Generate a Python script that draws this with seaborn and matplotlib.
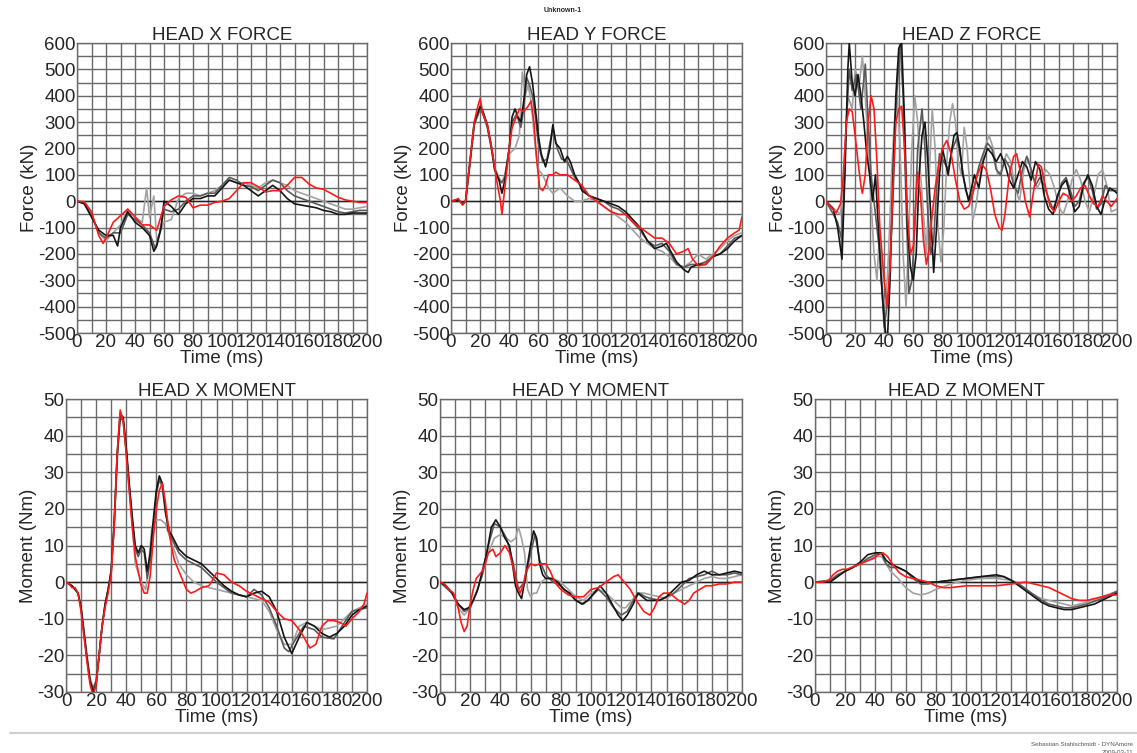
import matplotlib
matplotlib.use("Agg")
import matplotlib.pyplot as plt
from matplotlib.ticker import MultipleLocator
import seaborn as sns
import pandas as pd

# ---------------- data ----------------
# HEAD X FORCE
FX_RED_T = [0, 5, 10, 15, 18, 20, 25, 30, 35, 40, 45, 50, 55, 60, 65, 70, 75, 80, 85, 90, 95, 100, 105, 110, 115, 120, 125, 130, 135, 140, 145, 150, 155, 160, 165, 170, 175, 180, 185, 190, 195, 200]
FX_RED = [0, -2, -40, -130, -160, -140, -80, -55, -30, -60, -90, -90, -110, -20, 5, 20, 15, -25, -15, -15, -5, 0, 10, 40, 70, 70, 55, 35, 40, 40, 60, 90, 90, 65, 50, 45, 30, 15, 5, 0, -5, -5]
FX_BLK_T = [0, 5, 10, 15, 20, 25, 28, 30, 35, 40, 45, 50, 53, 55, 58, 60, 65, 70, 75, 80, 85, 90, 95, 100, 105, 110, 115, 120, 125, 130, 135, 140, 145, 150, 155, 160, 165, 170, 175, 180, 185, 190, 195, 200]
FX_BLK = [0, -10, -60, -110, -130, -130, -170, -100, -40, -80, -100, -130, -190, -170, -100, 0, -20, -50, -10, 10, 10, 20, 20, 50, 80, 70, 60, 40, 20, 40, 60, 40, 10, -10, -15, -20, -25, -35, -40, -50, -50, -45, -45, -45]
FX_DGR_T = [0, 5, 10, 15, 20, 25, 30, 35, 40, 45, 50, 54, 57, 60, 65, 70, 75, 80, 85, 90, 95, 100, 105, 110, 115, 120, 125, 130, 135, 140, 145, 150, 155, 160, 165, 170, 175, 180, 185, 190, 195, 200]
FX_DGR = [0, -8, -55, -120, -140, -120, -120, -50, -70, -90, -120, -180, -120, -30, -40, -30, 0, 20, 20, 30, 30, 60, 90, 80, 60, 55, 40, 60, 80, 70, 40, 20, 10, 0, -10, -20, -30, -40, -45, -40, -35, -35]
FX_LGR_T = [0, 5, 10, 15, 20, 25, 30, 35, 40, 45, 48, 50, 53, 55, 60, 65, 70, 75, 80, 85, 90, 95, 100, 105, 110, 115, 120, 125, 130, 135, 140, 145, 150, 155, 160, 165, 170, 175, 180, 185, 190, 195, 200]
FX_LGR = [0, -5, -50, -120, -150, -120, -90, -30, -60, -80, 50, -60, 20, -150, -80, -70, 10, 30, 30, 20, 30, 40, 60, 80, 70, 70, 60, 50, 70, 80, 70, 60, 40, 30, 20, 10, 0, -10, -20, -30, -30, -25, -20]

# HEAD Y FORCE
FY_RED_T = [0, 3, 5, 8, 10, 13, 16, 18, 20, 22, 25, 28, 30, 32, 34, 35, 37, 40, 42, 45, 47, 50, 53, 55, 57, 59, 61, 63, 65, 67, 70, 72, 75, 80, 85, 90, 95, 100, 105, 110, 115, 120, 125, 130, 135, 140, 145, 150, 155, 160, 163, 166, 170, 175, 180, 185, 190, 195, 198, 200]
FY_RED = [0, 5, 10, -15, 0, 150, 300, 350, 390, 330, 290, 200, 130, 60, 0, -50, 50, 200, 280, 320, 350, 340, 360, 380, 300, 150, 50, 40, 60, 100, 100, 110, 100, 100, 80, 60, 20, 0, -20, -40, -50, -50, -80, -100, -120, -140, -140, -160, -200, -190, -180, -220, -245, -240, -210, -170, -140, -120, -110, -60]
FY_BLK_T = [0, 5, 8, 10, 13, 16, 20, 22, 25, 28, 30, 33, 35, 37, 40, 42, 44, 46, 48, 50, 52, 54, 56, 58, 60, 62, 65, 68, 70, 72, 75, 78, 80, 82, 85, 88, 90, 95, 100, 105, 110, 115, 120, 125, 130, 135, 140, 145, 148, 150, 155, 160, 163, 165, 170, 175, 180, 185, 190, 195, 200]
FY_BLK = [0, 5, -10, 0, 150, 300, 360, 340, 290, 200, 120, 80, 30, 80, 200, 320, 350, 320, 300, 380, 480, 510, 450, 350, 250, 180, 130, 200, 290, 220, 200, 150, 170, 150, 100, 70, 40, 20, 10, 0, -10, -20, -40, -70, -100, -150, -180, -170, -160, -180, -230, -260, -270, -250, -240, -240, -210, -200, -180, -150, -130]
FY_DGR_T = [0, 5, 8, 10, 13, 16, 20, 22, 25, 28, 30, 33, 35, 37, 40, 42, 45, 48, 50, 52, 54, 56, 58, 60, 63, 66, 70, 73, 76, 80, 85, 90, 95, 100, 105, 110, 115, 120, 125, 130, 135, 140, 145, 150, 155, 160, 165, 170, 175, 180, 185, 190, 195, 200]
FY_DGR = [0, 5, -10, 0, 140, 290, 350, 330, 280, 190, 120, 80, 70, 90, 200, 300, 330, 280, 350, 470, 440, 400, 320, 220, 150, 160, 280, 200, 160, 150, 90, 50, 20, 10, 0, -20, -30, -50, -80, -110, -150, -170, -160, -190, -240, -250, -240, -240, -230, -210, -200, -170, -140, -130]
FY_LGR_T = [0, 5, 8, 10, 13, 16, 20, 22, 25, 28, 30, 33, 35, 37, 40, 44, 47, 49, 51, 53, 55, 58, 60, 63, 67, 70, 75, 80, 85, 90, 95, 100, 105, 110, 115, 120, 125, 130, 135, 140, 145, 150, 155, 160, 165, 170, 175, 180, 185, 190, 195, 200]
FY_LGR = [0, 5, -10, 0, 140, 290, 350, 330, 280, 200, 130, 90, 70, 100, 180, 200, 250, 490, 400, 440, 380, 200, 120, 100, 50, 30, 50, 20, 0, 0, 10, 0, -20, -40, -60, -80, -110, -140, -160, -180, -190, -210, -240, -250, -230, -200, -220, -200, -180, -150, -130, -120]

# HEAD Z FORCE
FZ_RED_T = [0, 3, 7, 10, 12, 14, 16, 18, 20, 22, 24, 25, 27, 29, 31, 33, 35, 37, 40, 42, 44, 46, 48, 50, 52, 54, 56, 58, 60, 62, 63, 65, 67, 69, 71, 73, 75, 78, 80, 83, 86, 89, 92, 95, 98, 101, 104, 107, 110, 113, 116, 119, 121, 123, 126, 129, 131, 134, 137, 140, 143, 146, 148, 151, 154, 157, 160, 163, 166, 169, 172, 175, 178, 181, 184, 187, 190, 193, 196, 200]
FZ_RED = [0, -20, -45, -10, 100, 300, 350, 340, 250, 150, 60, 30, 100, 300, 400, 350, 150, -100, -300, -400, -250, 50, 300, 350, 360, 200, -50, -200, -170, 20, 110, 20, -150, -240, -180, -50, 50, 150, 200, 230, 180, 80, 0, -30, -20, 30, 100, 140, 120, 50, -50, -100, -110, -50, 100, 170, 180, 100, 0, -60, 50, 140, 130, 50, -20, -40, 0, 30, 20, 0, 20, 50, 60, 20, -10, -20, 20, 0, -20, 10]
FZ_BLK_T = [0, 5, 8, 11, 13, 15, 16, 18, 20, 22, 24, 26, 28, 30, 32, 34, 36, 38, 40, 42, 44, 46, 48, 50, 52, 54, 56, 58, 60, 62, 64, 66, 68, 70, 72, 74, 76, 78, 80, 82, 84, 86, 88, 90, 92, 94, 96, 98, 100, 102, 105, 108, 111, 114, 117, 120, 123, 126, 129, 132, 135, 138, 141, 144, 147, 150, 153, 156, 159, 162, 165, 168, 171, 174, 177, 180, 183, 186, 189, 192, 195, 198, 200]
FZ_BLK = [0, -30, -100, -220, 100, 500, 600, 450, 400, 480, 400, 300, 180, 100, 0, 100, -100, -300, -450, -550, -300, 100, 400, 580, 600, 300, -100, -250, -300, -200, 100, 250, 300, 150, -50, -270, -100, 100, 200, 150, 100, 180, 250, 260, 200, 100, 50, 0, 50, 100, 50, 150, 200, 180, 150, 180, 140, 80, 50, 100, 150, 130, 80, 150, 120, 20, -30, -50, 20, 60, 80, 20, -40, -20, 60, 100, 60, -20, -50, 10, 50, 40, 30]
FZ_DGR_T = [0, 8, 11, 14, 16, 18, 21, 24, 27, 29, 31, 34, 37, 40, 43, 46, 48, 51, 53, 55, 57, 59, 61, 63, 66, 68, 70, 72, 74, 76, 78, 81, 84, 87, 90, 93, 96, 99, 102, 105, 108, 111, 114, 117, 120, 123, 126, 129, 132, 135, 138, 141, 144, 147, 150, 153, 156, 159, 162, 165, 168, 171, 174, 177, 180, 183, 186, 189, 192, 195, 200]
FZ_DGR = [0, -80, -150, 300, 500, 420, 480, 350, 520, 300, 100, -50, -200, -480, -350, 0, 350, 600, 400, 0, -350, -300, -100, 200, 350, 200, -50, -200, -150, 50, 180, 150, 120, 200, 240, 150, 40, 0, 60, 130, 180, 220, 200, 120, 100, 160, 130, 60, 30, 120, 170, 120, 60, 90, 60, 10, -30, 10, 70, 90, 40, -20, 0, 70, 90, 40, -30, -10, 60, 40, 40]
FZ_LGR_T = [0, 10, 13, 15, 18, 20, 23, 25, 27, 29, 31, 33, 35, 37, 39, 41, 43, 45, 47, 49, 51, 53, 55, 57, 59, 61, 63, 65, 67, 69, 71, 73, 75, 77, 79, 81, 83, 85, 87, 89, 91, 93, 95, 97, 99, 101, 103, 106, 109, 112, 115, 118, 121, 124, 127, 130, 133, 136, 139, 142, 145, 148, 151, 154, 157, 160, 163, 166, 169, 172, 175, 178, 181, 184, 187, 190, 193, 196, 200]
FZ_LGR = [0, -50, 200, 400, 350, 500, 450, 550, 400, 200, 0, -200, -300, -100, -350, -400, -200, 100, 300, 400, 200, -200, -400, -100, 200, 400, 300, 100, -50, -200, 100, 350, 200, -100, -230, -100, 150, 300, 370, 300, 150, 100, 280, 200, 50, -70, -20, 100, 200, 250, 200, 100, 120, 180, 150, 50, 0, 120, 160, 100, 50, 80, 120, 100, 50, -20, -50, 0, 80, 120, 80, 0, -40, 20, 100, 120, 60, -40, -30]

# HEAD X MOMENT
MX_RED_T = [0, 2, 4, 6, 8, 10, 12, 14, 16, 18, 20, 22, 24, 26, 28, 30, 32, 34, 36, 38, 40, 42, 44, 46, 48, 50, 52, 54, 56, 58, 60, 62, 64, 66, 68, 70, 72, 75, 78, 80, 83, 86, 90, 95, 98, 100, 105, 110, 115, 120, 125, 130, 135, 140, 145, 150, 155, 158, 162, 166, 170, 174, 178, 182, 186, 190, 195, 198, 200]
MX_RED = [0, -0.5, -1.5, -1.5, -3, -8, -15, -22, -28, -31, -28, -20, -12, -7, -3, 2, 15, 35, 47, 44, 35, 25, 15, 7, 3, -1, -3, -3, 2, 12, 20, 25, 27, 22, 15, 10, 6, 3, 0, -2, -3, -2.5, -1.5, -1, 1, 2.5, 2, 0, -1, -2.5, -3.5, -4.5, -5.5, -8, -10, -10.5, -13, -15, -18, -17, -12, -10.5, -10.5, -11, -12, -10, -8, -6, -3]
MX_BLK_T = [0, 4, 8, 10, 12, 14, 16, 18, 20, 22, 24, 26, 28, 30, 32, 34, 36, 38, 40, 42, 44, 46, 48, 50, 52, 54, 56, 58, 60, 62, 64, 66, 68, 70, 75, 80, 85, 90, 95, 100, 105, 110, 115, 120, 125, 130, 135, 140, 145, 150, 155, 160, 165, 170, 175, 180, 185, 190, 195, 200]
MX_BLK = [0, -1, -3, -7, -14, -21, -27, -30, -28, -20, -12, -6, -2, 3, 16, 35, 46, 45, 37, 27, 18, 10, 8, 10, 9, 3, 8, 17, 25, 29, 27, 20, 14, 13, 9, 7, 6, 5, 3, 1, -1, -2.5, -3.5, -4, -3, -2.5, -4, -8, -15, -19.5, -15, -11, -12, -14, -15, -14, -12, -9, -7.5, -6.5]
MX_DGR_T = [0, 4, 8, 10, 12, 14, 16, 18, 20, 22, 24, 26, 28, 30, 32, 34, 36, 38, 40, 42, 44, 46, 48, 50, 52, 54, 56, 58, 60, 62, 64, 66, 70, 75, 80, 90, 100, 110, 120, 125, 130, 135, 140, 145, 148, 152, 158, 165, 170, 178, 185, 190, 200]
MX_DGR = [0, -1, -3, -7, -14, -21, -27, -29, -27, -20, -12, -6, -2, 3, 16, 34, 45, 44, 36, 26, 17, 9, 7, 9, 8, 1, 6, 15, 24, 28, 26, 19, 12, 8, 6, 4, 0, -3, -4, -2, -3.5, -7, -12, -18, -19, -16, -12, -13, -15, -15.5, -11, -8, -7]
MX_LGR_T = [0, 4, 8, 10, 12, 14, 16, 18, 20, 22, 24, 26, 28, 30, 32, 34, 36, 38, 40, 42, 44, 46, 50, 53, 55, 57, 60, 63, 66, 70, 75, 80, 85, 90, 100, 110, 120, 130, 135, 140, 145, 150, 155, 160, 165, 170, 180, 185, 190, 200]
MX_LGR = [0, -1, -3, -7, -13, -20, -26, -29, -27, -20, -12, -6, -2, 3, 15, 33, 45, 44, 36, 26, 16, 5, 0, -2, 5, 15, 17, 17, 16, 11, 5, 2, 0, -1, -2, -3, -4, -5, -8, -13, -17, -17, -12, -11, -12, -13, -12, -10, -8, -6]

# HEAD Y MOMENT
MY_RED_T = [0, 3, 6, 9, 12, 14, 16, 18, 20, 22, 24, 26, 28, 30, 32, 35, 37, 40, 43, 46, 49, 51, 53, 55, 57, 60, 63, 66, 70, 73, 76, 80, 85, 90, 95, 100, 105, 110, 115, 118, 122, 126, 130, 135, 139, 142, 145, 148, 152, 155, 158, 162, 165, 168, 172, 176, 180, 185, 190, 195, 200]
MY_RED = [0, -0.5, -2, -3, -7, -11, -13.5, -12, -6, -2, 1, 2, 3, 5, 8, 9, 7, 8, 10, 8, 3, -1, -3, -1, 3, 5, 4.5, 5, 5, 3, 0, -2, -3.5, -4, -4, -2, -1.5, 0, 1.5, 2, 0, -2, -5, -8, -9, -7, -4, -3, -3, -4, -5, -6, -5, -3, -2, -1, -1, -0.5, -0.5, 0, 0]
MY_BLK_T = [0, 4, 8, 12, 16, 19, 22, 25, 28, 31, 34, 37, 40, 43, 46, 48, 50, 52, 54, 56, 58, 60, 62, 64, 66, 68, 70, 74, 78, 82, 86, 90, 94, 98, 102, 106, 110, 114, 118, 121, 124, 128, 131, 134, 137, 140, 145, 150, 155, 160, 165, 170, 175, 180, 185, 190, 195, 200]
MY_BLK = [0, -1, -3, -6, -7.5, -7, -5, -2, 3, 8, 15, 17, 15, 12, 10, 5, -1, -3, -4.5, 0, 5, 10, 14, 12, 5, 2, 1, 1, 0, -2, -3, -5, -6, -5, -3, -1, -3, -6, -9, -10.5, -9, -6, -3, -4, -5, -5, -5, -4, -2, 0, 0.5, 2, 3, 2, 2, 2.5, 3, 2.5]
MY_DGR_T = [0, 8, 12, 16, 20, 24, 28, 32, 36, 40, 44, 48, 52, 56, 60, 63, 66, 70, 75, 80, 85, 90, 95, 100, 105, 110, 115, 120, 124, 128, 132, 136, 140, 146, 150, 155, 160, 165, 170, 175, 180, 185, 190, 195, 200]
MY_DGR = [0, -3, -6, -8, -7, -3, 2, 10, 16, 15, 12, 6, -2, 0, 8, 13, 6, 2, 0, -1, -3, -5, -6, -4, -2, -4, -7, -9, -8, -5, -3, -4, -4.5, -5, -4, -3, -1, 1, 1.5, 2, 3, 2, 2, 2.5, 2]
MY_LGR_T = [0, 8, 12, 16, 20, 24, 28, 32, 36, 40, 44, 47, 50, 52, 54, 56, 58, 60, 62, 64, 67, 70, 75, 80, 85, 90, 95, 100, 105, 110, 115, 120, 123, 127, 131, 135, 140, 145, 150, 155, 160, 165, 170, 175, 180, 185, 190, 195, 200]
MY_LGR = [0, -3, -7, -9, -7, -3, 2, 8, 12, 13, 12, 11, 12, 15, 12, 8, -2, -4, -3, -3, 0, 1, 1, 0, -2, -4, -5, -3, -2, -3, -5, -7, -7, -5, -3, -3, -3.5, -4, -4.5, -3, -2, -1, 0, 1, 1.5, 1, 1, 1.5, 2]

# HEAD Z MOMENT
MZ_RED_T = [0, 5, 9, 12, 15, 18, 21, 24, 27, 30, 33, 36, 39, 42, 45, 48, 52, 56, 60, 65, 70, 75, 80, 85, 90, 100, 110, 120, 130, 140, 145, 150, 155, 160, 165, 170, 175, 180, 185, 190, 195, 200]
MZ_RED = [0, 0, 0.5, 2, 3, 3.5, 3.5, 4, 4.5, 5, 5.5, 6, 6.5, 7.5, 8, 7, 4.5, 2.5, 1.5, 1, 0.5, 0, -1, -1.5, -1.5, -1, -1, -1, -0.5, 0, -0.5, -1, -1.5, -2.5, -3.5, -4.5, -5, -5, -4.5, -4, -3.5, -3.5]
MZ_BLK_T = [0, 10, 15, 20, 25, 30, 35, 40, 44, 47, 50, 55, 60, 65, 70, 75, 80, 90, 100, 110, 120, 125, 130, 135, 140, 145, 150, 155, 160, 165, 170, 175, 180, 185, 190, 195, 200]
MZ_BLK = [0, 0, 1.5, 3, 4, 5.5, 7.5, 8, 8, 6, 5, 4, 3, 1.5, 0, 0, 0, 0.5, 1, 1.5, 2, 1.5, 0.5, -1, -2.5, -4, -5.5, -6.5, -7, -7.5, -7.5, -7, -6.5, -6, -5, -4, -3]
MZ_DGR_T = [0, 10, 15, 20, 25, 30, 35, 40, 44, 47, 50, 55, 60, 65, 70, 75, 80, 90, 100, 110, 120, 125, 130, 135, 140, 145, 150, 155, 160, 165, 170, 175, 180, 190, 200]
MZ_DGR = [0, 0.5, 2, 3, 4, 5, 6.5, 7.5, 8, 5, 4, 4, 3, 1, -0.5, -0.5, 0, 0.5, 1, 1.5, 1.5, 1.5, 0.5, -0.5, -2, -3.5, -5, -6, -6.5, -7, -7, -6.5, -6, -4.5, -2.5]
MZ_LGR_T = [0, 10, 15, 20, 25, 30, 35, 40, 44, 47, 50, 55, 60, 65, 70, 75, 80, 90, 100, 110, 120, 130, 135, 140, 145, 150, 155, 160, 165, 170, 175, 180, 190, 200]
MZ_LGR = [0, 0.5, 2, 3, 4, 5, 6, 7, 7, 5, 3, 1, -1.5, -3, -3.5, -3, -2, -0.5, 0.5, 1, 1, 0.5, -0.5, -2, -3.5, -4.5, -5, -5.5, -6, -6.5, -6, -5.5, -4, -2.5]

TITLES = ["HEAD X FORCE", "HEAD Y FORCE", "HEAD Z FORCE", "HEAD X MOMENT", "HEAD Y MOMENT", "HEAD Z MOMENT"]
SERIES = ["light", "dark", "black", "red"]
PALETTE = {"light": "#a2a2a2", "dark": "#5a5a5a", "black": "#151515", "red": "#ff1a1a"}

PANELS = [
    [(FX_LGR_T, FX_LGR), (FX_DGR_T, FX_DGR), (FX_BLK_T, FX_BLK), (FX_RED_T, FX_RED)],
    [(FY_LGR_T, FY_LGR), (FY_DGR_T, FY_DGR), (FY_BLK_T, FY_BLK), (FY_RED_T, FY_RED)],
    [(FZ_LGR_T, FZ_LGR), (FZ_DGR_T, FZ_DGR), (FZ_BLK_T, FZ_BLK), (FZ_RED_T, FZ_RED)],
    [(MX_LGR_T, MX_LGR), (MX_DGR_T, MX_DGR), (MX_BLK_T, MX_BLK), (MX_RED_T, MX_RED)],
    [(MY_LGR_T, MY_LGR), (MY_DGR_T, MY_DGR), (MY_BLK_T, MY_BLK), (MY_RED_T, MY_RED)],
    [(MZ_LGR_T, MZ_LGR), (MZ_DGR_T, MZ_DGR), (MZ_BLK_T, MZ_BLK), (MZ_RED_T, MZ_RED)],
]

# ---------------- style ----------------
sns.set_style("white")
plt.rcParams["font.family"] = ["Liberation Sans", "DejaVu Sans"]
plt.rcParams["axes.unicode_minus"] = False

fig = plt.figure(figsize=(11.37, 7.53), dpi=100)
W, H = 1137, 753
# axes boxes in pixels: left, top, right, bottom
BOXES = [
    (77, 43, 367, 333), (451, 43, 742, 333), (826, 43, 1117, 333),
    (66, 399, 367, 692), (440, 399, 742, 692), (815, 399, 1117, 692),
]

grid_c = "#6a6a6a"
for i, (box, title, panel) in enumerate(zip(BOXES, TITLES, PANELS)):
    l, t, r, b = box
    ax = fig.add_axes([l / W, (H - b) / H, (r - l) / W, (b - t) / H])
    frames = []
    for name, (tt, vv) in zip(SERIES, panel):
        frames.append(pd.DataFrame({"Time": tt, "Value": vv, "series": name}))
    df = pd.concat(frames, ignore_index=True)
    sns.lineplot(data=df, x="Time", y="Value", hue="series", hue_order=SERIES,
                 palette=PALETTE, estimator=None, sort=False, linewidth=1.2,
                 legend=False, ax=ax, zorder=3)
    force = i < 3
    ax.set_xlim(0, 200)
    if force:
        ax.set_ylim(-500, 600)
        ax.yaxis.set_major_locator(MultipleLocator(100))
        ax.yaxis.set_minor_locator(MultipleLocator(50))
        ax.set_ylabel("Force (kN)", fontsize=13.5, labelpad=0)
    else:
        ax.set_ylim(-30, 50)
        ax.yaxis.set_major_locator(MultipleLocator(10))
        ax.yaxis.set_minor_locator(MultipleLocator(5))
        ax.set_ylabel("Moment (Nm)", fontsize=13.5, labelpad=0)
    ax.xaxis.set_major_locator(MultipleLocator(20))
    ax.xaxis.set_minor_locator(MultipleLocator(10))
    ax.grid(True, which="both", color=grid_c, linewidth=1.0)
    ax.set_axisbelow(True)
    ax.axhline(0, color="#222222", linewidth=1.0, zorder=2)
    ax.tick_params(which="both", length=0, labelsize=13.5, pad=1)
    ax.set_xlabel("Time (ms)", fontsize=13.5, labelpad=-1)
    ax.set_title(title, fontsize=13.5, pad=2)
    for s in ax.spines.values():
        s.set_color(grid_c)
        s.set_linewidth(1.0)

fig.text(563 / W, 1 - 11 / H, "Unknown-1", fontsize=5, fontweight="bold", ha="center", va="center")
fig.add_artist(plt.Line2D([10 / W, 1.0], [1 - 733 / H, 1 - 733 / H], color="#d0d0d0", linewidth=1.5))
fig.text(1133 / W, 1 - 744 / H, "Sebastian Stahlschmidt - DYNAmore", fontsize=4.5, color="#555555", ha="right", va="center")
fig.text(1133 / W, 1 - 752 / H, "2009-03-11", fontsize=4.5, color="#555555", ha="right", va="center")

fig.savefig("out.png", dpi=100, facecolor="white")
